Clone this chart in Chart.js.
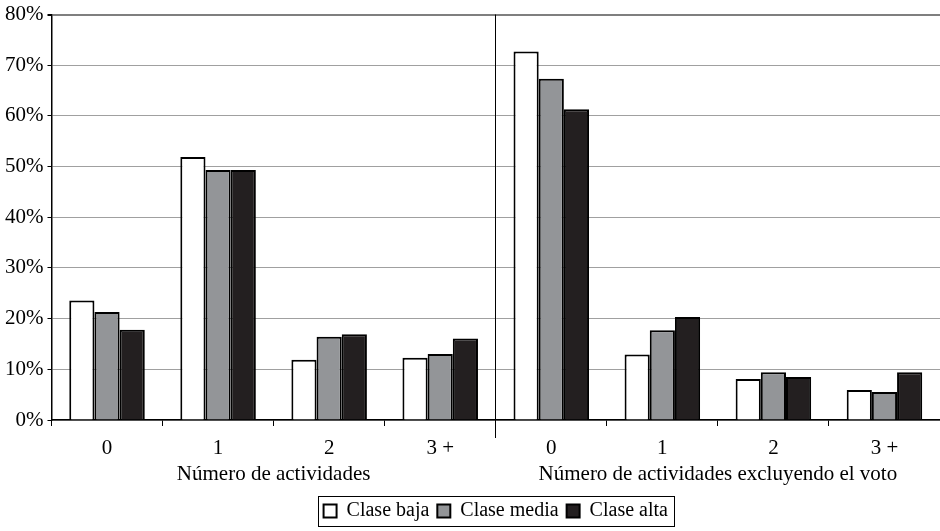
<!DOCTYPE html>
<html>
<head>
<meta charset="utf-8">
<script src="https://cdn.jsdelivr.net/npm/chart.js@4"></script>
<style>
  html, body { margin: 0; padding: 0; background: #fff; }
  #wrap { width: 940px; height: 531px; }
</style>
</head>
<body>
<div id="wrap"><canvas id="grafico"></canvas></div>
<script>
const categorias = ['0', '1', '2', '3 +', '0', '1', '2', '3 +'];
const grupos = ['Número de actividades', 'Número de actividades excluyendo el voto'];
const claseBaja = [23.6, 51.9, 11.9, 12.3, 72.7, 12.9, 8.1, 5.9];
const claseMedia = [21.3, 49.3, 16.4, 13.0, 67.3, 17.7, 9.4, 5.5];
const claseAlta = [17.8, 49.3, 16.9, 16.1, 61.3, 20.3, 8.5, 9.4];
const ticksY = [0, 10, 20, 30, 40, 50, 60, 70, 80];

const familia = '"Liberation Serif", "DejaVu Serif", serif';
const fuente = { family: familia, size: 21 };

// recuadro alrededor de la leyenda y prolongación del separador central
const marcoLeyenda = {
  id: 'marcoLeyenda',
  afterDraw(chart) {
    const ctx = chart.ctx;
    const lg = chart.legend;
    ctx.save();
    ctx.strokeStyle = '#000';
    ctx.lineWidth = 1;
    if (lg && lg.legendHitBoxes.length) {
      const hb = lg.legendHitBoxes;
      const x0 = Math.min(...hb.map(h => h.left)) - 6;
      const x1 = Math.max(...hb.map(h => h.left + h.width)) + 6;
      const y0 = Math.min(...hb.map(h => h.top)) - 5;
      const y1 = Math.max(...hb.map(h => h.top + h.height)) + 5;
      ctx.strokeRect(Math.round(x0) + 0.5, Math.round(y0) + 0.5, Math.round(x1 - x0), Math.round(y1 - y0));
    }
    const xs = chart.scales.x;
    const p = (xs.getPixelForTick(3) + xs.getPixelForTick(4)) / 2;
    const xm = Math.round(p - 0.5) + 0.5;
    ctx.beginPath();
    ctx.moveTo(xm, chart.chartArea.bottom);
    ctx.lineTo(xm, chart.chartArea.bottom + 18);
    ctx.stroke();
    ctx.restore();
  }
};

const serie = (label, data, color) => ({
  label, data,
  backgroundColor: color,
  borderColor: '#000',
  borderWidth: 2,
  borderSkipped: 'bottom',
  categoryPercentage: 0.68,
  barPercentage: 1
});

new Chart(document.getElementById('grafico'), {
  type: 'bar',
  data: {
    labels: categorias,
    datasets: [
      serie('Clase baja', claseBaja, '#ffffff'),
      serie('Clase media', claseMedia, '#939598'),
      serie('Clase alta', claseAlta, '#231f20')
    ]
  },
  options: {
    responsive: true,
    maintainAspectRatio: false,
    animation: false,
    layout: { padding: { left: 1, right: 0, top: 0, bottom: 0 } },
    plugins: {
      tooltip: { enabled: false },
      legend: {
        position: 'bottom',
        fullSize: false,
        labels: {
          color: '#000',
          font: { family: familia, size: 20 },
          boxWidth: 13,
          boxHeight: 13,
          padding: 8,
          generateLabels(chart) {
            return chart.data.datasets.map((ds, i) => ({
              text: ds.label,
              fillStyle: ds.backgroundColor,
              strokeStyle: '#000',
              lineWidth: 2,
              datasetIndex: i
            }));
          }
        }
      }
    },
    scales: {
      y: {
        min: 0,
        max: 80,
        afterBuildTicks(axis) { axis.ticks = ticksY.map(v => ({ value: v })); },
        ticks: {
          color: '#000',
          font: { family: familia, size: 21, lineHeight: 1.0 },
          padding: 4,
          callback: v => v + '%'
        },
        grid: {
          color: c => c.tick && c.tick.value === 80 ? '#7f7f7f' : '#a0a0a0',
          lineWidth: c => c.tick && c.tick.value === 80 ? 2 : 1,
          drawTicks: true,
          tickLength: 4,
          tickColor: '#000'
        },
        border: { color: '#000', width: 1.5 }
      },
      x: {
        afterFit(axis) { axis.height = 40; },
        ticks: { color: '#000', font: fuente, padding: 10 },
        grid: {
          offset: true,
          drawOnChartArea: true,
          color: c => c.index === 4 ? '#000' : 'rgba(0,0,0,0)',
          tickColor: '#000',
          tickLength: 6
        },
        border: { color: '#000', width: 1.5 }
      },
      x2: {
        type: 'category',
        labels: grupos,
        position: 'bottom',
        offset: true,
        afterFit(axis) { axis.height = 33; },
        ticks: { color: '#000', font: fuente, padding: 2 },
        grid: { display: false, drawTicks: false },
        border: { display: false }
      }
    }
  },
  plugins: [marcoLeyenda]
});
</script>
</body>
</html>
